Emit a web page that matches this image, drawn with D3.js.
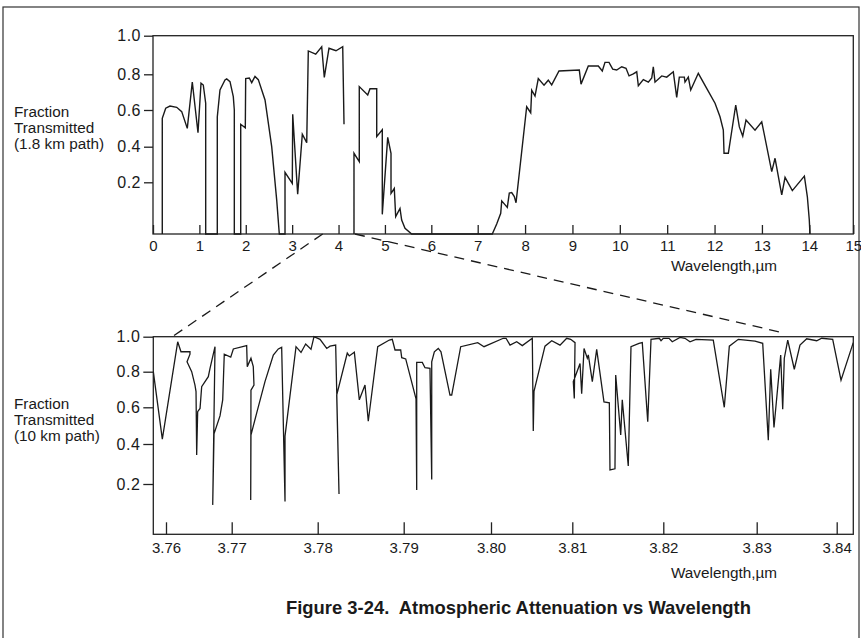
<!DOCTYPE html>
<html><head><meta charset="utf-8">
<script src="https://cdn.jsdelivr.net/npm/d3@7"></script>
<style>
body{margin:0;background:#fff;}
svg text{font-family:"Liberation Sans",Arial,Helvetica,sans-serif;fill:#1a1a1a;}
</style></head><body>
<svg id="c" width="861" height="638"></svg>
<script>
// ---------------- data ----------------
const topWavelengthTicks = [0,1,2,3,4,5,6,7,8,9,10,11,12,13,14,15];
const fractionTicks = [0.2,0.4,0.6,0.8,1.0];
const bottomWavelengthTicks = [3.76,3.77,3.78,3.79,3.80,3.81,3.82,3.83,3.84];

// 1.8 km path, wavelength (µm) / fraction transmitted; null = pen lifted
const topSpectrum = [
[0.20,0],[0.20,0.555],[0.274,0.61],[0.366,0.622],[0.511,0.615],[0.619,0.591],[0.739,0.50],
[0.847,0.757],[0.970,0.476],[1.035,0.75],[1.084,0.74],[1.136,0.638],[1.136,0],
[1.386,0],[1.386,0.562],[1.444,0.712],[1.552,0.768],[1.589,0.774],[1.66,0.759],[1.731,0.675],[1.753,0.60],[1.753,0],
[1.891,0],[1.891,0.522],[1.99,0.503],[1.998,0.776],[2.076,0.779],[2.128,0.753],[2.199,0.788],[2.27,0.77],
[2.415,0.656],[2.559,0.40],[2.667,0.131],[2.723,0],
[2.846,0],[2.846,0.256],[3.003,0.196],[3.012,0.577],[3.119,0.154],[3.219,0.468],[3.314,0.422],[3.348,0.921],
[3.508,0.904],[3.637,0.943],[3.693,0.783],[3.794,0.935],[3.945,0.922],[4.09,0.943],[4.118,0.522],
null,
[4.333,0],[4.333,0.363],[4.447,0.316],[4.447,0.731],[4.629,0.684],[4.678,0.719],[4.823,0.719],[4.823,0.455],
[4.943,0.492],[4.943,0.076],[5.06,0.451],[5.131,0.363],[5.131,0.157],[5.202,0.176],[5.232,0.067],[5.325,0.099],
[5.361,0.054],[5.433,0.022],[5.577,0],
[7.308,0],[7.401,0.039],[7.486,0.08],[7.507,0.128],[7.625,0.103],[7.667,0.158],[7.718,0.16],[7.773,0.145],[7.809,0.121],
[8.034,0.618],[8.119,0.585],[8.14,0.711],[8.21,0.678],[8.279,0.776],[8.4,0.739],[8.49,0.767],[8.562,0.741],[8.716,0.817],
[9.145,0.822],[9.181,0.745],[9.335,0.843],[9.546,0.843],[9.63,0.817],[9.687,0.862],[9.772,0.862],[9.85,0.827],[9.934,0.822],
[10.04,0.839],[10.131,0.831],[10.195,0.791],[10.285,0.802],[10.357,0.813],[10.391,0.736],[10.496,0.77],[10.602,0.756],
[10.674,0.779],[10.707,0.839],[10.743,0.756],[10.885,0.791],[10.99,0.784],[11.129,0.813],[11.201,0.671],[11.256,0.784],
[11.362,0.784],[11.376,0.756],[11.446,0.784],[11.497,0.712],[11.657,0.805],[11.834,0.721],[12.01,0.638],[12.115,0.563],
[12.185,0.49],[12.2,0.363],[12.291,0.363],[12.447,0.628],[12.523,0.508],[12.595,0.457],[12.664,0.545],[12.854,0.49],
[12.996,0.536],[13.207,0.26],[13.277,0.335],[13.418,0.151],[13.488,0.228],[13.642,0.168],[13.896,0.235],[13.959,0.144],
[14.0,0.054],[14.015,0]
];

// 10 km path, wavelength (µm) / fraction transmitted
const bottomSpectrum = [
[3.75807,0.800],[3.75944,0.427],[3.76178,0.971],[3.76228,0.914],[3.76365,0.914],[3.76365,0.900],[3.76320,0.857],
[3.76391,0.800],[3.76441,0.725],[3.76457,0.688],[3.76467,0.345],[3.76482,0.576],[3.76518,0.594],[3.76543,0.716],
[3.76644,0.772],[3.76670,0.819],[3.76746,0.943],[3.76711,0.117],[3.76731,0.455],[3.76822,0.553],[3.76863,0.642],
[3.76887,0.900],[3.76985,0.883],[3.77019,0.930],[3.77174,0.949],[3.77181,0.829],[3.77224,0.877],[3.77251,0.829],
[3.77259,0.725],[3.77224,0.696],[3.77221,0.136],[3.77224,0.449],[3.77291,0.570],[3.77387,0.744],[3.77484,0.895],
[3.77542,0.930],[3.77581,0.939],[3.77620,0.130],[3.77620,0.443],[3.77748,0.943],[3.77806,0.910],[3.77860,0.958],
[3.77922,0.928],[3.77957,1.000],[3.78027,0.985],[3.78105,0.933],[3.78143,0.946],[3.78209,0.952],[3.78248,0.160],
[3.78221,0.669],[3.78344,0.906],[3.78367,0.890],[3.78426,0.911],[3.78484,0.642],[3.78550,0.725],[3.78588,0.524],
[3.78698,0.943],[3.78833,0.981],[3.78867,0.985],[3.78899,0.924],[3.78965,0.924],[3.78977,0.880],[3.79023,0.873],
[3.79141,0.648],[3.79149,0.176],[3.79149,0.853],[3.79213,0.853],[3.79244,0.823],[3.79301,0.819],[3.79321,0.223],
[3.79321,0.857],[3.79351,0.914],[3.79396,0.933],[3.79427,0.914],[3.79530,0.669],[3.79550,0.669],[3.79653,0.943],
[3.79848,0.966],[3.79920,0.943],[3.80151,0.991],[3.80185,0.991],[3.80234,0.952],[3.80316,0.971],[3.80385,0.949],
[3.80508,0.991],[3.80520,0.471],[3.80529,0.690],[3.80664,0.946],[3.80747,0.977],[3.80849,0.952],[3.80931,0.991],
[3.80980,0.985],[3.81030,0.966],[3.81022,0.650],[3.81011,0.744],[3.81085,0.847],[3.81103,0.676],[3.81129,0.933],
[3.81165,0.877],[3.81176,0.896],[3.81220,0.744],[3.81268,0.928],[3.81348,0.630],[3.81407,0.625],[3.81414,0.270],
[3.81469,0.276],[3.81477,0.781],[3.81532,0.449],[3.81549,0.642],[3.81615,0.290],[3.81645,0.943],[3.81733,0.962],
[3.81769,0.966],[3.81829,0.521],[3.81865,0.985],[3.81956,0.991],[3.81975,0.977],[3.82000,0.991],[3.82061,0.991],
[3.82096,0.971],[3.82179,0.996],[3.82232,0.991],[3.82286,0.971],[3.82350,0.985],[3.82535,0.981],[3.82653,0.600],
[3.82707,0.946],[3.82803,0.985],[3.82982,0.975],[3.83075,0.962],[3.83145,0.420],[3.83175,0.814],[3.83216,0.490],
[3.83300,0.895],[3.83325,0.589],[3.83345,0.877],[3.83388,0.981],[3.83470,0.814],[3.83541,0.952],[3.83625,0.988],
[3.83750,0.977],[3.83813,0.991],[3.83950,0.985],[3.84054,0.752],[3.84207,0.966]
];

// zoom connector: span on the upper axis -> span on the lower plot's top edge
const zoomFromTop = [3.658, 4.355];
const zoomToBottom = [3.76096, 3.83354];
const zoomToLevel = [1.0, 1.02];

// ---------------- layout ----------------
const ink = "#1a1a1a";
const svg = d3.select("#c");

// frame around the figure
svg.append("rect").attr("x",3).attr("y",7).attr("width",856).attr("height",660)
  .attr("fill","none").attr("stroke","#333").attr("stroke-width",1.2);

// scales (the original drawing's axes are slightly uneven, so piecewise scales follow its ticks)
const topX = d3.scaleLinear().domain([0,7,14,15]).range([153,477.7,809.3,853.3]);
const topY = d3.scaleLinear().domain([0,0.2,0.4,0.6,0.8,1]).range([234,182.3,146.7,110,74.3,35.7]);
const botX = d3.scaleLinear().domain(bottomWavelengthTicks)
  .range([166,231.7,317.7,403.7,491,572.3,663.3,756.7,836.7]);
const botY = d3.scaleLinear().domain([0,0.2,0.4,0.6,0.8,1]).range([534.3,484,444,407.3,371.7,336.7]);

const topBox = {x0:153, x1:853.3, y0:35.7, y1:234};
const botBox = {x0:153.3, x1:853.3, y0:336.7, y1:534.3};

function box(b){
  svg.append("rect").attr("x",b.x0).attr("y",b.y0).attr("width",b.x1-b.x0).attr("height",b.y1-b.y0)
    .attr("fill","none").attr("stroke","#222").attr("stroke-width",1.3);
}

function styleAxis(size, spacing){
  return g => {
    g.select(".domain").remove();
    g.selectAll("line").attr("stroke","#222").attr("stroke-width",1.3);
    g.selectAll("text").attr("font-size",size).attr("fill",ink)
      .attr("letter-spacing",spacing)
      .style("font-family","'Liberation Sans',Arial,Helvetica,sans-serif");
  };
}

// ---- top chart ----
box(topBox);
svg.append("g").attr("transform",`translate(0,${topBox.y1})`)
  .call(d3.axisBottom(topX).tickValues(topWavelengthTicks).tickFormat(d3.format("d"))
    .tickSizeInner(-9).tickSizeOuter(0).tickPadding(6))
  .call(styleAxis(15,0));
svg.append("g").attr("transform",`translate(${topBox.x0},0)`)
  .call(d3.axisLeft(topY).tickValues(fractionTicks).tickFormat(d3.format(".1f"))
    .tickSizeInner(9).tickSizeOuter(0).tickPadding(3))
  .call(styleAxis(16,0.5));

const topLine = d3.line().defined(d => d !== null).x(d => topX(d[0])).y(d => topY(d[1]));
svg.append("path").datum(topSpectrum).attr("d",topLine)
  .attr("fill","none").attr("stroke",ink).attr("stroke-width",1.4).attr("stroke-linejoin","miter");

// ---- bottom chart ----
box(botBox);
svg.append("g").attr("transform",`translate(0,${botBox.y1})`)
  .call(d3.axisBottom(botX).tickValues(bottomWavelengthTicks).tickFormat(d3.format(".2f"))
    .tickSizeInner(-12).tickSizeOuter(0).tickPadding(8))
  .call(styleAxis(15,0));
svg.append("g").attr("transform",`translate(${botBox.x0},0)`)
  .call(d3.axisLeft(botY).tickValues(fractionTicks).tickFormat(d3.format(".1f"))
    .tickSizeInner(10).tickSizeOuter(0).tickPadding(3))
  .call(styleAxis(16,0.5));

svg.append("clipPath").attr("id","botclip").append("rect")
  .attr("x",botBox.x0).attr("y",botBox.y0-5).attr("width",botBox.x1-botBox.x0).attr("height",botBox.y1-botBox.y0+5);
const botLine = d3.line().x(d => botX(d[0])).y(d => botY(d[1]));
svg.append("path").datum(bottomSpectrum).attr("d",botLine).attr("clip-path","url(#botclip)")
  .attr("fill","none").attr("stroke",ink).attr("stroke-width",1.3).attr("stroke-linejoin","miter");

// ---- dashed connectors ----
[0,1].forEach(i => {
  svg.append("line")
    .attr("x1",topX(zoomFromTop[i])).attr("y1",topY(0))
    .attr("x2",botX(zoomToBottom[i])).attr("y2",botY(zoomToLevel[i]))
    .attr("stroke",ink).attr("stroke-width",1.3).attr("stroke-dasharray","10,7");
});

// ---- texts ----
function label(lines, x, y0, dy){
  lines.forEach((t,i)=> svg.append("text").attr("x",x).attr("y",y0+i*dy).attr("font-size",15.3).text(t));
}
label(["Fraction","Transmitted","(1.8 km path)"], 14, 116.5, 16);
label(["Fraction","Transmitted","(10 km path)"], 14, 409, 16);

svg.append("text").attr("x",777).attr("y",271).attr("text-anchor","end").attr("font-size",15.3).text("Wavelength,\u00b5m");
svg.append("text").attr("x",777).attr("y",578).attr("text-anchor","end").attr("font-size",15.3).text("Wavelength,\u00b5m");

svg.append("text").attr("x",518.5).attr("y",614).attr("text-anchor","middle").attr("font-size",18.4)
  .attr("font-weight","bold").style("white-space","pre")
  .text("Figure 3-24.  Atmospheric Attenuation vs Wavelength");
</script>
</body></html>
